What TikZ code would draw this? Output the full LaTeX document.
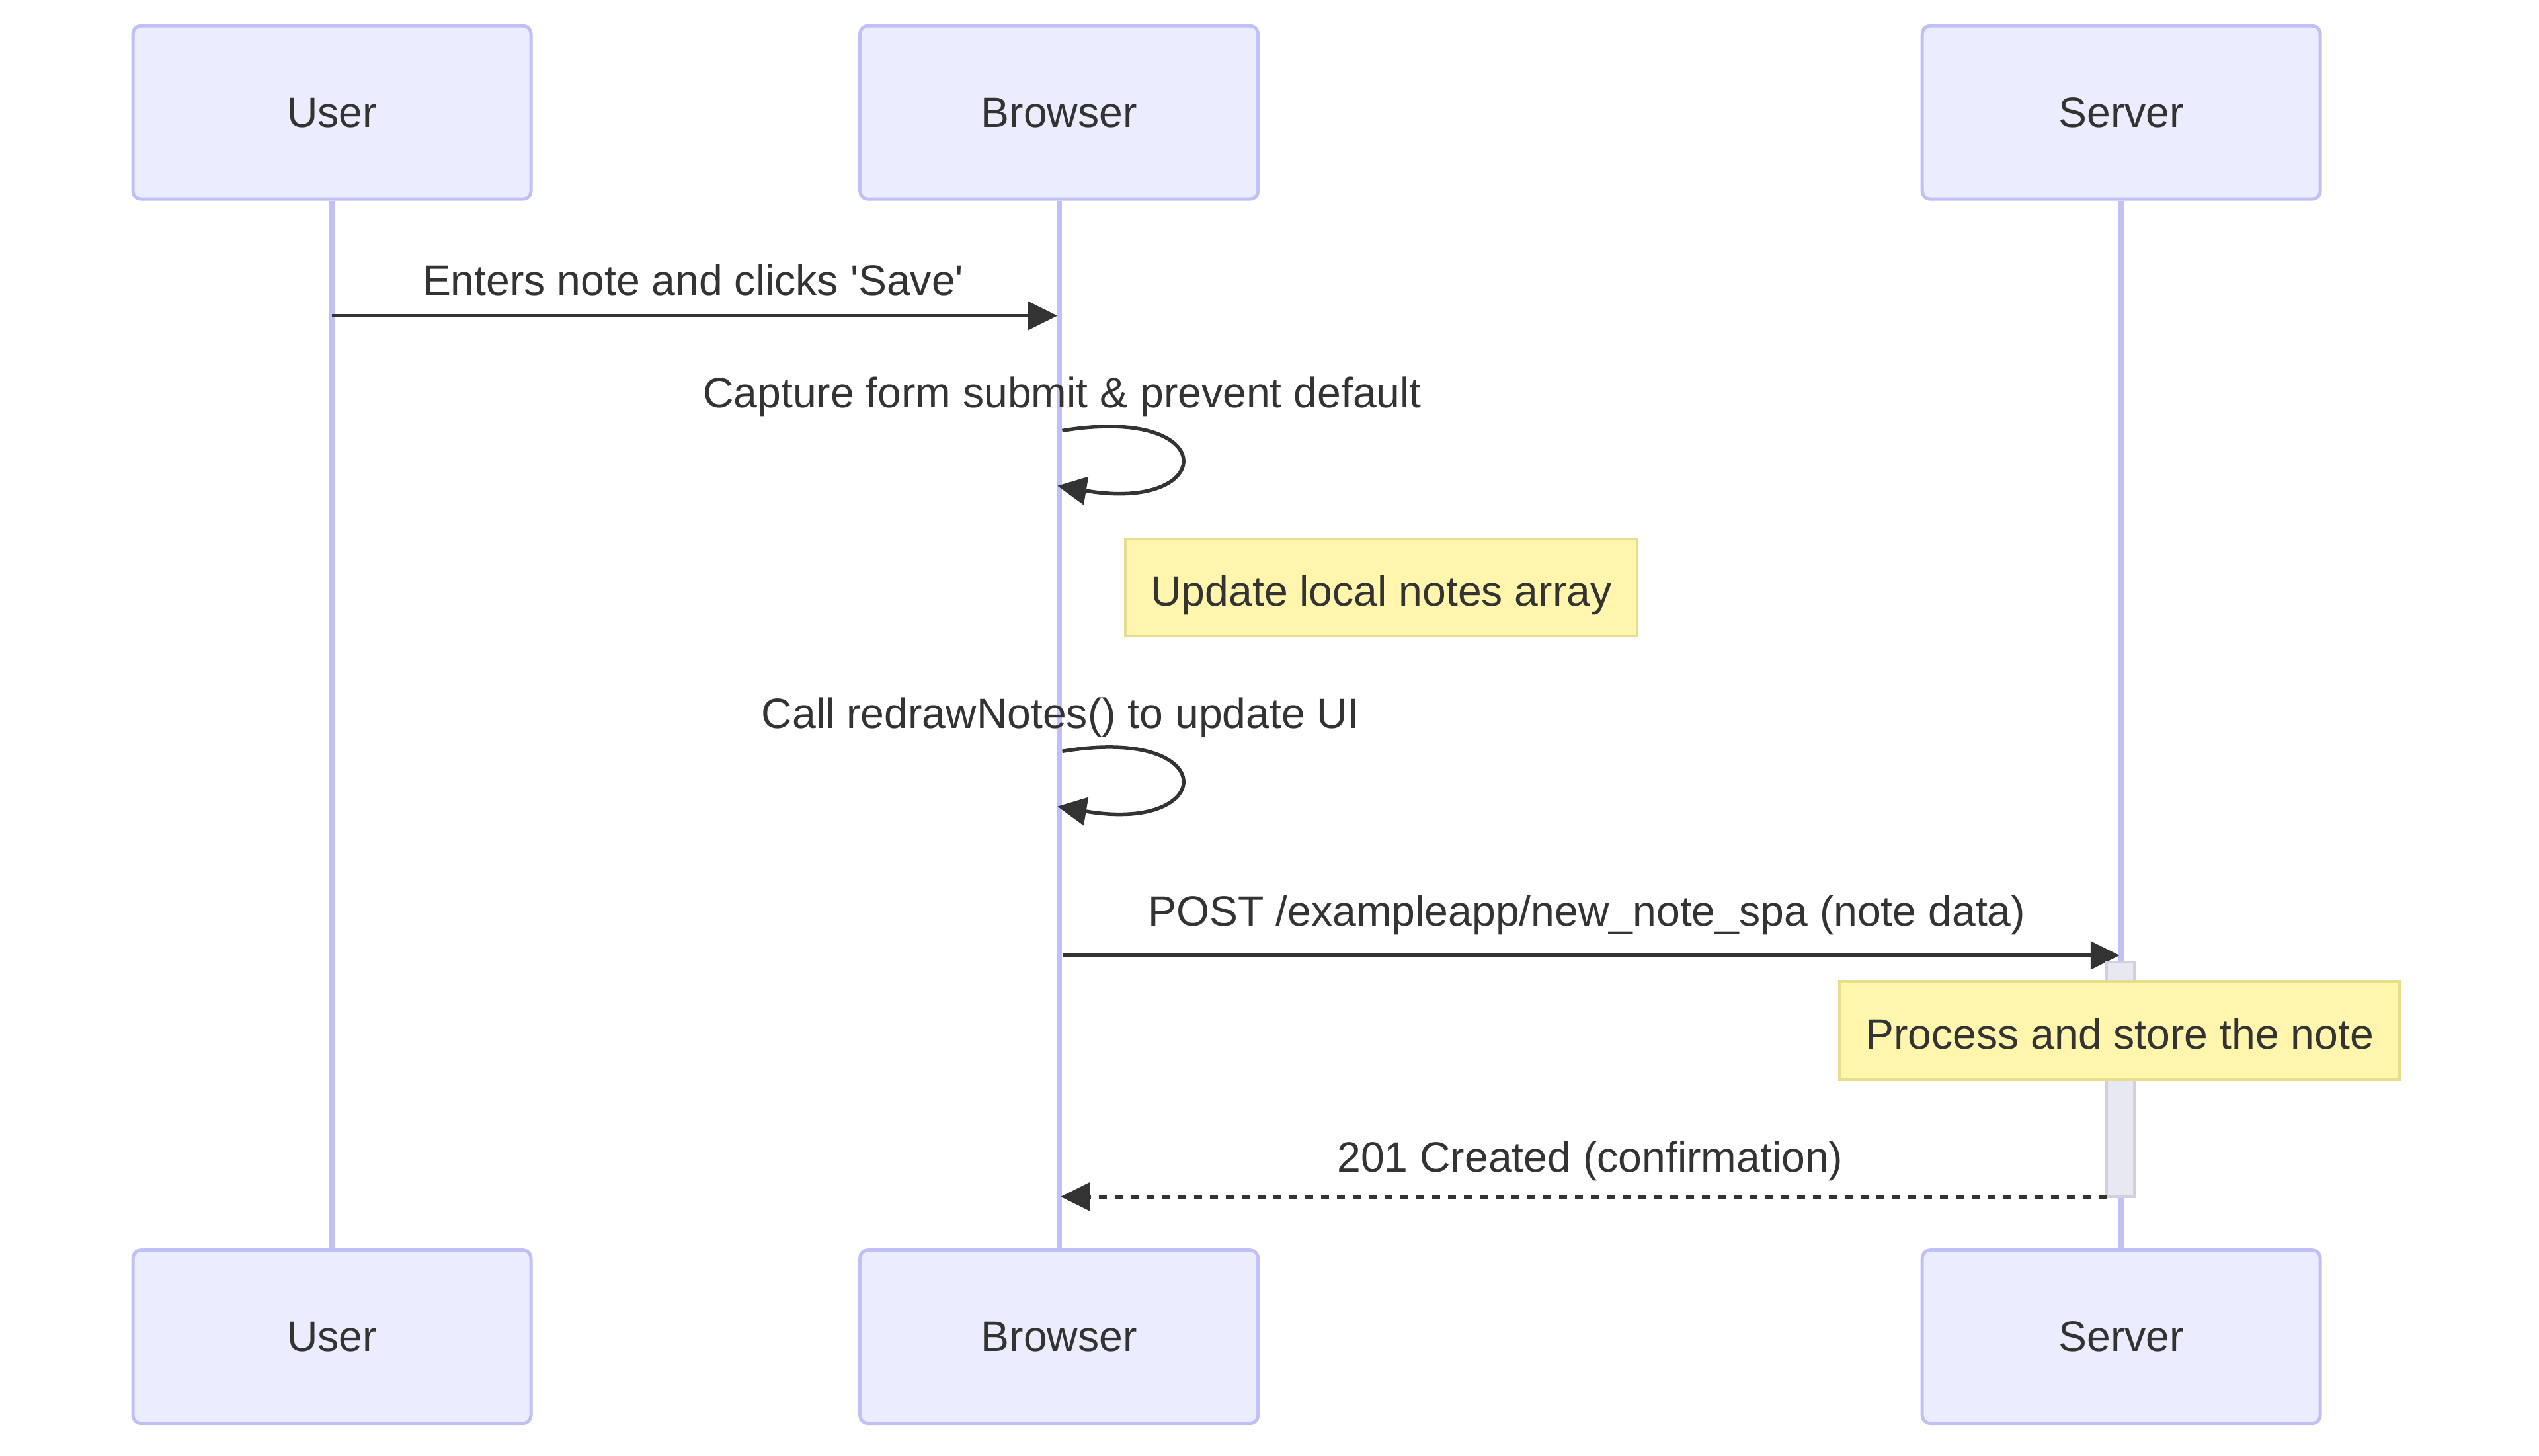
\documentclass[tikz,border=0pt]{standalone}
\usepackage{fontspec}
\setmainfont{Liberation Sans}
\usetikzlibrary{arrows.meta,positioning}

\definecolor{actorfill}{HTML}{ECECFF}
\definecolor{actorline}{HTML}{C0C0F6}
\definecolor{notefill}{HTML}{FFF5AD}
\definecolor{noteline}{HTML}{E6DE8E}
\definecolor{textgray}{HTML}{333333}
\definecolor{actfill}{HTML}{E8E8F2}
\definecolor{actline}{HTML}{D0D0E0}

\tikzset{
  actor/.style={draw=actorline, fill=actorfill, line width=0.5mm, rounded corners=1.2mm,
    minimum width=60.2mm, minimum height=26.2mm, inner sep=0pt, text=textgray},
  lifeline/.style={draw=actorline, line width=0.8mm},
  msg/.style={draw=textgray, line width=0.55mm, -{Triangle[length=4.4mm,width=4.2mm]}},
  reply/.style={msg, dash pattern=on 1.2mm off 1.2mm},
  msglabel/.style={text=textgray, inner sep=0pt},
  notebox/.style={draw=noteline, fill=notefill, line width=0.4mm, inner sep=0pt, text=textgray,
    text height=5.6mm, text depth=0pt},
  actbar/.style={draw=actline, fill=actfill, line width=0.4mm, inner sep=0pt,
    minimum width=4.2mm, minimum height=35.5mm},
}

\begin{document}
\begin{tikzpicture}[x=0.2449mm, y=-0.2449mm,
    every node/.style={font=\fontsize{18.3}{22}\selectfont}]
  \useasboundingbox (0,0) rectangle (1568,899);

  % actors, top and bottom
  \node[actor] (userT) at (205,69.5) {User};
  \node[actor] (browserT) at (654,69.5) {Browser};
  \node[actor] (serverT) at (1310,69.5) {Server};
  \node[actor] (userB) at (205,825.5) {User};
  \node[actor] (browserB) at (654,825.5) {Browser};
  \node[actor] (serverB) at (1310,825.5) {Server};

  % lifelines
  \draw[lifeline] (userT) -- (userB);
  \draw[lifeline] (browserT) -- (browserB);
  \draw[lifeline] (serverT) -- (serverB);

  % message end points
  \coordinate (saveA) at (205,195);
  \coordinate (saveB) at (653,195);
  \coordinate (captA) at (656,266);
  \coordinate (captB) at (653,300);
  \coordinate (redrA) at (656,464);
  \coordinate (redrB) at (653,498);
  \coordinate (postA) at (656,590);
  \coordinate (postB) at (1309,590);
  \coordinate (backA) at (1301,739);
  \coordinate (backB) at (655,739);

  % messages
  \node[msglabel] (saveL) at (428,173) {Enters note and clicks \textquotesingle Save\textquotesingle};
  \draw[msg] (saveA) -- (saveB);

  \node[msglabel] (captL) at (656,245) {Capture form submit \& prevent default};
  \draw[msg] (captA) .. controls +(99,-16.5) and +(99,17) .. (captB);

  \node[notebox, minimum width=77.4mm, minimum height=14.7mm] (localN) at (853,363)
    {Update local notes array};

  \node[msglabel] (redrL) at (655,443) {Call redrawNotes() to update UI};
  \draw[msg] (redrA) .. controls +(99,-16.5) and +(99,17) .. (redrB);

  \node[msglabel] (postL) at (980,565) {POST /exampleapp/new\_note\_spa (note data)};
  \draw[msg] (postA) -- (postB);

  % activation on the server
  \node[actbar] (serverAct) at (1309.5,666.5) {};

  \node[notebox, minimum width=84.7mm, minimum height=14.9mm] (storeN) at (1309,636.5)
    {Process and store the note};

  \node[msglabel] (backL) at (982,717) {201 Created (confirmation)};
  \draw[reply] (backA) -- (backB);
\end{tikzpicture}
\end{document}
